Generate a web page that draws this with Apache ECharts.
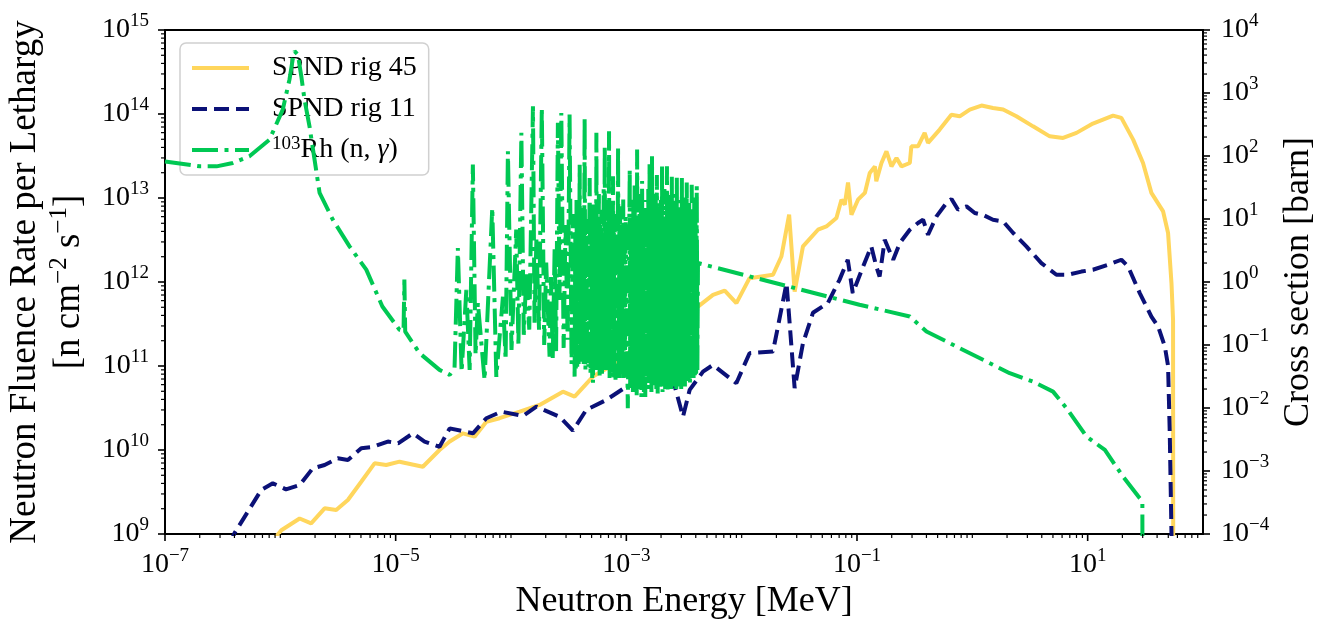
<!DOCTYPE html>
<html><head><meta charset="utf-8">
<script src="https://cdn.jsdelivr.net/npm/echarts@6/dist/echarts.min.js"></script>
<style>html,body{margin:0;padding:0;background:#fff;}#c{width:1323px;height:626px;}</style>
</head><body><div id="c"></div>
<script>
// ---- data: [energy (MeV), value] ----
const rig45 = [
[9.0e-7,9.0e8],[1.02e-6,1.11e9],[1.47e-6,1.53e9],[1.85e-6,1.34e9],[2.42e-6,2.02e9],[3.05e-6,1.93e9],
[3.85e-6,2.54e9],[5.03e-6,4.19e9],[6.56e-6,6.94e9],[8.28e-6,6.62e9],[1.08e-5,7.26e9],[1.72e-5,6.32e9],
[2.40e-5,1.0e10],[2.94e-5,1.26e10],[3.83e-5,1.58e10],[4.83e-5,1.44e10],[6.11e-5,2.17e10],[7.96e-5,2.39e10],
[1.19e-4,2.86e10],[1.77e-4,3.44e10],[2.82e-4,4.95e10],[3.56e-4,4.32e10],[5.13e-4,7.48e10],[7.16e-4,9.8e10],
[1.6e-3,2.2e11],[2.62e-3,3.35e11],[4.18e-3,5.1e11],[5.64e-3,7.03e11],[7.13e-3,7.91e11],[9.0e-3,5.6e11],
[1.17e-2,1.11e12],[1.87e-2,1.22e12],[2.21e-2,2.01e12],[2.58e-2,6.32e12],[2.88e-2,7.7e11],[3.40e-2,2.65e12],
[4.59e-2,4.19e12],[5.43e-2,4.59e12],[6.63e-2,5.78e12],[7.33e-2,9.55e12],[7.83e-2,8.32e12],[8.36e-2,1.53e13],
[8.95e-2,6.32e12],[1.02e-1,9.55e12],[1.17e-1,1.15e13],[1.29e-1,1.99e13],[1.43e-1,2.38e13],[1.47e-1,1.58e13],
[1.63e-1,2.61e13],[1.80e-1,3.59e13],[1.99e-1,2.38e13],[2.20e-1,3.0e13],[2.43e-1,2.38e13],[2.87e-1,2.61e13],
[2.96e-1,4.12e13],[3.38e-1,4.12e13],[3.86e-1,5.96e13],[4.13e-1,4.53e13],[5.21e-1,6.52e13],[6.58e-1,9.8e13],
[7.77e-1,9.38e13],[9.5e-1,1.13e14],[1.2,1.26e14],[1.51,1.18e14],[1.85,1.13e14],[2.41,9.39e13],
[3.36,7.13e13],[4.69,5.42e13],[6.12,5.19e13],[8.0,5.96e13],[11.1,7.69e13],[16.6,9.57e13],
[19.6,8.99e13],[24.8,4.95e13],[30.2,2.61e13],[35.7,1.15e13],[45.1,6.92e12],[49.8,3.83e12],
[53.3,9.7e11],[55.0,3.54e11],[55.2,5e8]
];
const rig11 = [
[3.63e-7,7.4e8],[4.0e-7,1.02e9],[6.83e-7,3.34e9],[8.61e-7,4.01e9],[1.12e-6,3.4e9],[1.47e-6,3.83e9],
[1.91e-6,6.05e9],[2.42e-6,6.62e9],[3.15e-6,7.96e9],[3.85e-6,7.6e9],[5.03e-6,1.05e10],[6.34e-6,1.09e10],
[8.55e-6,1.26e10],[1.05e-5,1.2e10],[1.41e-5,1.58e10],[1.78e-5,1.26e10],[2.4e-5,1.09e10],[2.94e-5,1.81e10],
[4.68e-5,1.58e10],[6.11e-5,2.39e10],[8.24e-5,2.86e10],[1.27e-4,2.54e10],[1.66e-4,3.28e10],[2.64e-4,2.49e10],
[3.44e-4,1.70e10],[4.49e-4,3.0e10],[6.7e-4,3.94e10],[1.0e-3,5.68e10],[1.39e-3,6.82e10],[1.95e-3,8.2e10],
[2.54e-3,6.82e10],[3.1e-3,2.49e10],[3.54e-3,5.19e10],[4.62e-3,8.57e10],[5.64e-3,1.03e11],[8.99e-3,6.24e10],
[1.17e-2,1.42e11],[1.87e-2,1.49e11],[2.45e-2,9.7e11],[2.88e-2,5.44e10],[3.4e-2,1.87e11],[4.15e-2,4.3e11],
[5.6e-2,5.65e11],[7.05e-2,1.06e12],[8.32e-2,1.84e12],[9.19e-2,7.38e11],[1.13e-1,1.53e12],[1.33e-1,2.65e12],
[1.47e-1,1.53e12],[1.57e-1,1.16e12],[1.74e-1,3.18e12],[2.06e-1,1.84e12],[2.35e-1,2.91e12],[2.87e-1,4.19e12],
[3.38e-1,5.04e12],[3.74e-1,5.51e12],[4.13e-1,3.65e12],[4.89e-1,6.04e12],[5.97e-1,8.73e12],[6.6e-1,9.73e12],
[7.52e-1,7.26e12],[8.9e-1,7.94e12],[1.05,6.63e12],[1.23,6.32e12],[1.51,5.51e12],[1.85,5.26e12],
[2.26,3.83e12],[2.94,2.65e12],[3.97,1.68e12],[5.36,1.22e12],[6.76,1.22e12],[8.83,1.33e12],
[11.1,1.4e12],[15.0,1.6e12],[19.6,1.84e12],[22.4,1.53e12],[28.3,7.38e11],[35.7,3.88e11],
[40.8,2.95e11],[46.7,1.7e11],[49.8,1.0e11],[51.5,1.58e10],[53.3,1.0e9],[53.5,5e8]
];
const rhCapture = [
[1.0e-7,82],[2.0e-7,68.5],[2.8e-7,68.5],[3.87e-7,77.6],[5.4e-7,99],[8.05e-7,182],[1.05e-6,545],
[1.2e-6,1630],[1.28e-6,3400],[1.33e-6,4600],[1.42e-6,4070],[1.52e-6,1840],[1.62e-6,786],[1.79e-6,296],
[1.98e-6,87.5],[2.19e-6,25.9],[2.85e-6,9.77],[3.98e-6,3.68],[5.56e-6,1.57],[7.67e-6,0.409],[1.08e-5,0.174],
[1.17e-5,0.168],[1.19e-5,1.09],[1.21e-5,0.163],[1.61e-5,0.0743],[2.4e-5,0.0403],[2.94e-5,0.0336],[3.24e-5,0.0435],
[3.46e-5,3.47],[3.73e-5,0.0375],[4.1e-5,0.753],[4.38e-5,0.0403],[4.67e-5,72.9],[4.93e-5,0.0698],[5.16e-5,0.468],
[5.9e-5,0.0279],[6.88e-5,15.0],[7.46e-5,0.0312],[8.51e-5,0.583],[8.98e-5,0.058],[9.4e-5,119],[1.01e-4,0.0837],
[1.11e-4,6.78],[1.16e-4,0.1],[1.23e-4,233],[1.29e-4,0.145],[1.36e-4,1.41],[1.44e-4,0.175],[1.55e-4,615],
[1.6e-4,0.225],[1.66e-4,4.7],[1.75e-4,0.175],[1.85e-4,580],[1.94e-4,0.1],[2.02e-4,2.03],[2.16e-4,0.065],
[2.22e-4,1.2],[2.3e-4,0.062],[2.39e-4,3.5],[2.46e-4,0.08],[2.55e-4,336],[2.64e-4,0.52],[2.73e-4,483],
[2.86e-4,0.09],[2.97e-4,8.0],[3.1e-4,0.121],[3.22e-4,454],[3.35e-4,0.05],[3.45e-4,12],
[3.56e-4,0.0315],[3.61e-4,6],[3.65e-4,0.04],[3.70e-4,20],[3.75e-4,0.045],[3.80e-4,5],[3.86e-4,0.05],
[3.94e-4,72.9],[4.00e-4,0.06],[4.07e-4,8],[4.14e-4,0.05],[4.20e-4,15],[4.27e-4,0.05],[4.35e-4,402],
[4.42e-4,0.04],[4.50e-4,6],[4.57e-4,0.05],[4.63e-4,10],[4.69e-4,0.045],[4.81e-4,44.8],[4.89e-4,0.035],
[4.97e-4,7],[5.06e-4,0.03],[5.10e-4,18],[5.14e-4,0.0251],[5.23e-4,5],[5.32e-4,0.04],[5.40e-4,9],
[5.45e-4,0.05],[5.50e-4,233],[5.58e-4,0.04],[5.63e-4,6],[5.68e-4,0.04],[5.78e-4,25],[5.87e-4,0.0312],
[5.94e-4,8],[6.00e-4,0.04],[6.07e-4,14],[6.15e-4,0.035],[6.23e-4,6],[6.32e-4,0.04],[6.36e-4,30],
[6.41e-4,0.05],[6.50e-4,143],[6.57e-4,0.05],[6.63e-4,9],[6.70e-4,0.05],[6.76e-4,20],[6.84e-4,0.04],
[6.92e-4,7],[7.00e-4,0.04],[7.08e-4,247],[7.16e-4,0.03],[7.24e-4,12],[7.32e-4,0.035],[7.40e-4,9],
[7.53e-4,0.0403],[7.67e-4,47.5],[7.73e-4,0.03],[7.80e-4,6],[7.86e-4,0.03],[7.93e-4,12],[8.06e-4,0.028],
[8.20e-4,7],[8.34e-4,0.03],[8.48e-4,143],[8.59e-4,0.03],[8.70e-4,10],[8.76e-4,0.03],[8.82e-4,16],
[8.89e-4,0.035],[8.95e-4,6],[9.05e-4,0.04],[9.15e-4,8],[9.27e-4,0.05],[9.40e-4,20.3],[9.50e-4,0.03],
[9.60e-4,7],[9.73e-4,0.035],[9.86e-4,11],[1.03e-3,0.0099],
[1.07e-3,60.7],[1.08e-3,0.02],[1.10e-3,5],[1.11e-3,0.03],[1.12e-3,8],[1.14e-3,0.018],[1.15e-3,22],[1.17e-3,0.025],
[1.18e-3,35],[1.20e-3,0.02],[1.21e-3,10],[1.23e-3,0.016],[1.24e-3,127],[1.26e-3,0.025],[1.27e-3,7],[1.29e-3,0.03],
[1.30e-3,12],[1.32e-3,0.02],[1.34e-3,25],[1.35e-3,0.015],[1.37e-3,40],[1.39e-3,0.022],[1.40e-3,9],[1.42e-3,0.018],
[1.44e-3,20],[1.46e-3,0.015],[1.48e-3,15],[1.49e-3,0.025],[1.51e-3,6],[1.53e-3,0.03],[1.55e-3,30],[1.57e-3,0.02],
[1.59e-3,75],[1.61e-3,0.025],[1.63e-3,11],[1.65e-3,0.018],[1.67e-3,99],[1.69e-3,0.022],[1.71e-3,8],[1.73e-3,0.03],
[1.76e-3,15],[1.78e-3,0.025],[1.80e-3,28],[1.82e-3,0.02],[1.84e-3,50],[1.87e-3,0.017],[1.89e-3,10],[1.91e-3,0.028],
[1.94e-3,9],[1.96e-3,0.02],[1.99e-3,20],[2.01e-3,0.022],[2.04e-3,68],[2.06e-3,0.018],[2.09e-3,12],[2.11e-3,0.025],
[2.14e-3,30],[2.17e-3,0.02],[2.19e-3,7],[2.22e-3,0.024],[2.25e-3,68.5],[2.28e-3,0.018],[2.30e-3,16],[2.33e-3,0.022],
[2.36e-3,14],[2.39e-3,0.028],[2.42e-3,24],[2.45e-3,0.02],[2.48e-3,47.5],[2.51e-3,0.025],[2.54e-3,9],[2.58e-3,0.022],
[2.61e-3,25],[2.64e-3,0.03],[2.67e-3,13],[2.71e-3,0.02],[2.74e-3,45],[2.78e-3,0.025],[2.81e-3,10],[2.84e-3,0.022],
[2.88e-3,20],[2.92e-3,0.03],[2.95e-3,15],[2.99e-3,0.02],[3.03e-3,44.8],[3.06e-3,0.025],[3.10e-3,9],[3.14e-3,0.028],
[3.18e-3,12],[3.22e-3,0.022],[3.26e-3,22],[3.30e-3,0.03],[3.34e-3,38],[3.38e-3,0.025],[3.43e-3,10],[3.47e-3,0.028],
[3.51e-3,18],[3.56e-3,0.025],[3.60e-3,14],[3.65e-3,0.03],[3.69e-3,35],[3.74e-3,0.028],[3.78e-3,11],[3.83e-3,0.03],
[3.88e-3,22],[3.93e-3,0.032],[3.98e-3,15],[4.03e-3,0.035],[4.08e-3,33],[4.13e-3,0.04],[4.18e-3,2.0],
[1.05e-1,0.436],[2.87e-1,0.284],[4.0e-1,0.164],[7.78e-1,0.089],[2.11,0.0357],[3.36,0.0262],[5.01,0.0182],
[6.55,0.00995],[9.77,0.00352],[14.1,0.00216],[20.3,8.1e-4],[28.3,3.69e-4],[29.8,3.3e-4],[29.85,5e-5]
];
const seriesNames = ['SPND rig 45', 'SPND rig 11', '103Rh (n, \u03b3)'];
const xTickExponents = [-7, -6, -5, -4, -3, -2, -1, 0, 1];
const yLeftExponents = [9, 10, 11, 12, 13, 14, 15];
const yRightExponents = [-4, -3, -2, -1, 0, 1, 2, 3, 4];
const minorMantissas = [2, 3, 4, 5, 6, 7, 8, 9];

const FONT = '"Liberation Serif","Times New Roman",Times,serif';
const MINUS = '\u2212';
function expLabel(v) {
  const e = Math.round(Math.log10(v));
  return '{b|10}{s|' + (e < 0 ? MINUS + (-e) : String(e)) + '}';
}
const tickRich = {
  b: {fontFamily: FONT, fontSize: 28, lineHeight: 36, color: '#000', verticalAlign: 'middle'},
  s: {fontFamily: FONT, fontSize: 19, lineHeight: 14, color: '#000', verticalAlign: 'top'}
};

// tick marks (major / minor) drawn through the axes' scales
const leftTicks = [];
xTickExponents.forEach(d => {
  leftTicks.push([Math.pow(10, d), 1e9, (d % 2 !== 0) ? 0 : 1]);
  minorMantissas.forEach(m => leftTicks.push([m * Math.pow(10, d), 1e9, 1]));
});
yLeftExponents.forEach(d => {
  leftTicks.push([1e-7, Math.pow(10, d), 2]);
  if (d < 15) minorMantissas.forEach(m => leftTicks.push([1e-7, m * Math.pow(10, d), 3]));
});
const rightTicks = [];
yRightExponents.forEach(d => {
  rightTicks.push([1e2, Math.pow(10, d), 4]);
  if (d < 4) minorMantissas.forEach(m => rightTicks.push([1e2, m * Math.pow(10, d), 5]));
});
function renderTick(params, api) {
  const p = api.coord([api.value(0), api.value(1)]);
  const k = api.value(2);
  const major = (k % 2 === 0);
  const len = major ? 7 : 4;
  let shape;
  if (k < 2) shape = {x1: p[0], y1: p[1], x2: p[0], y2: p[1] + len};
  else if (k < 4) shape = {x1: p[0] - len, y1: p[1], x2: p[0], y2: p[1]};
  else shape = {x1: p[0], y1: p[1], x2: p[0] + len, y2: p[1]};
  return {type: 'line', shape: shape, style: {stroke: '#000', lineWidth: major ? 1.6 : 1.2}};
}

const chart = echarts.init(document.getElementById('c'), null, {renderer: 'canvas'});
const C45 = '#FFD65C', C11 = '#0B1177', CRH = '#00C853';
chart.setOption({
  animation: false,
  backgroundColor: '#fff',
  grid: {left: 165, top: 30, width: 1038, height: 504, show: true, borderColor: '#000', borderWidth: 2,
         backgroundColor: 'transparent', containLabel: false, outerBoundsMode: 'none'},
  legend: {
    orient: 'vertical', left: 180, top: 43, padding: [10, 12, 10, 10], itemGap: 11,
    itemWidth: 57, itemHeight: 20, backgroundColor: 'rgba(255,255,255,0.8)',
    borderColor: '#d0d0d0', borderWidth: 1.5, borderRadius: 6,
    itemStyle: {opacity: 0},
    lineStyle: {width: 4},
    data: seriesNames,
    formatter: function (name) {
      if (name.indexOf('103') === 0) return '{sup|103}Rh (n, {g|\u03b3})';
      return name;
    },
    textStyle: {fontFamily: FONT, fontSize: 28, color: '#000', lineHeight: 30, padding: [0, 0, 0, 18],
      rich: {
        sup: {fontFamily: FONT, fontSize: 19, lineHeight: 12, color: '#000', verticalAlign: 'top'},
        g: {fontFamily: FONT, fontSize: 28, fontStyle: 'italic', color: '#000', lineHeight: 30}
      }}
  },
  xAxis: {
    type: 'log', logBase: 10, min: 1e-7, max: 1e2, interval: 1,
    axisLine: {show: false}, axisTick: {show: false}, splitLine: {show: false}, minorTick: {show: false},
    axisLabel: {margin: 13, showMinLabel: true, showMaxLabel: true, hideOverlap: false,
      formatter: function (v) { const e = Math.round(Math.log10(v)); return (e % 2 !== 0) ? expLabel(v) : ''; },
      rich: tickRich},
    name: 'Neutron Energy [MeV]', nameLocation: 'middle', nameGap: 50,
    nameTextStyle: {fontFamily: FONT, fontSize: 36, color: '#000'}
  },
  yAxis: [{
    type: 'log', logBase: 10, min: 1e9, max: 1e15, interval: 1, position: 'left',
    axisLine: {show: false}, axisTick: {show: false}, splitLine: {show: false}, minorTick: {show: false},
    axisLabel: {margin: 16, showMinLabel: true, showMaxLabel: true, formatter: expLabel, rich: tickRich},
    name: 'Neutron Fluence Rate per Lethargy\n[n cm{s|' + MINUS + '2} s{s|' + MINUS + '1}]',
    nameLocation: 'middle', nameRotate: 90, nameGap: 74,
    nameTextStyle: {fontFamily: FONT, fontSize: 37, color: '#000', lineHeight: 44,
      rich: {s: {fontFamily: FONT, fontSize: 25, lineHeight: 18, color: '#000', verticalAlign: 'top'}}}
  }, {
    type: 'log', logBase: 10, min: 1e-4, max: 1e4, interval: 1, position: 'right',
    axisLine: {show: false}, axisTick: {show: false}, splitLine: {show: false}, minorTick: {show: false},
    axisLabel: {margin: 18, showMinLabel: true, showMaxLabel: true, formatter: expLabel, rich: tickRich},
    name: 'Cross section [barn]', nameLocation: 'middle', nameRotate: 90, nameGap: 70,
    nameTextStyle: {fontFamily: FONT, fontSize: 36, color: '#000'}
  }],
  series: [
    {name: seriesNames[0], type: 'line', xAxisIndex: 0, yAxisIndex: 0, data: rig45, symbol: 'none', silent: true,
     lineStyle: {color: C45, width: 4}, itemStyle: {color: C45}, z: 2},
    {name: seriesNames[1], type: 'line', xAxisIndex: 0, yAxisIndex: 0, data: rig11, symbol: 'none', silent: true,
     lineStyle: {color: C11, width: 4, type: [15, 7]}, itemStyle: {color: C11}, z: 3},
    {name: seriesNames[2], type: 'line', xAxisIndex: 0, yAxisIndex: 1, data: rhCapture, symbol: 'none', silent: true,
     lineStyle: {color: CRH, width: 4, type: [26, 6.5, 4, 6.5]}, itemStyle: {color: CRH}, z: 4},
    {type: 'custom', xAxisIndex: 0, yAxisIndex: 0, data: leftTicks, renderItem: renderTick, clip: false, silent: true, z: 10,
     encode: {x: 0, y: 1}},
    {type: 'custom', xAxisIndex: 0, yAxisIndex: 1, data: rightTicks, renderItem: renderTick, clip: false, silent: true, z: 10,
     encode: {x: 0, y: 1}}
  ]
});
</script>
</body></html>
